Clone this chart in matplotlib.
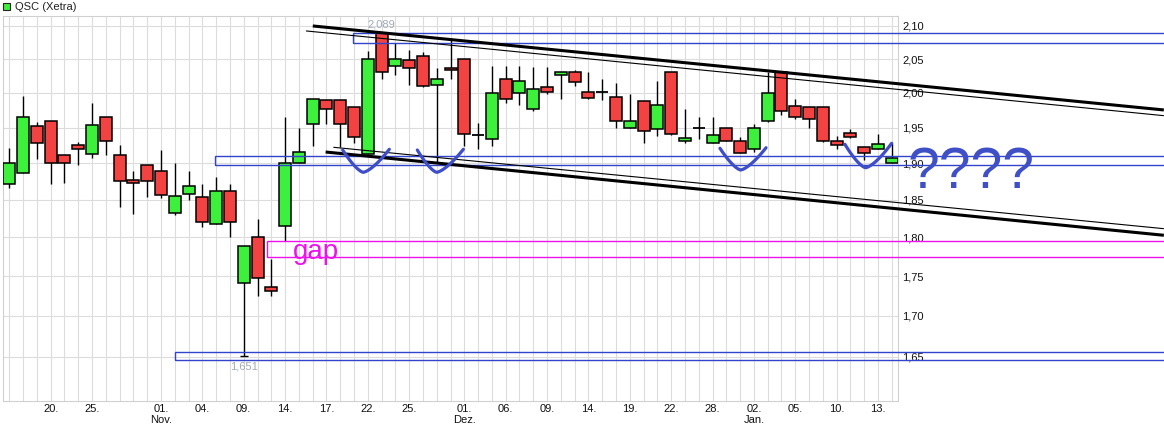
import numpy as np
import pandas as pd
import matplotlib
matplotlib.use('Agg')
import matplotlib.pyplot as plt
from matplotlib.patches import Rectangle
from matplotlib.ticker import FixedLocator, FixedFormatter, NullLocator

plt.rcParams['font.family'] = ['Liberation Sans', 'DejaVu Sans']

# ---------------- data ----------------
dates = pd.bdate_range('2016-10-17', '2017-01-16')
dates = dates[dates != pd.Timestamp('2016-12-26')]

opens = [1.871, 1.886, 1.952, 1.960, 1.911, 1.926, 1.913, 1.965, 1.911, 1.877,
         1.897, 1.890, 1.833, 1.858, 1.854, 1.818, 1.862, 1.741, 1.800, 1.736,
         1.815, 1.900, 1.955, 1.990, 1.989, 1.980, 1.913, 2.089, 2.040, 2.049,
         2.054, 2.011, 2.036, 2.050, 1.940, 1.934, 2.021, 2.000, 1.976, 2.009,
         2.027, 2.030, 2.001, 2.001, 1.994, 1.950, 1.988, 1.948, 2.030, 1.931,
         1.949, 1.929, 1.950, 1.931, 1.920, 1.960, 2.030, 1.981, 1.980, 1.980,
         1.931, 1.942, 1.923, 1.920, 1.901]
highs = [1.921, 1.995, 1.958, 1.960, 1.911, 1.930, 1.986, 1.965, 1.925, 1.890,
         1.897, 1.918, 1.900, 1.890, 1.871, 1.881, 1.871, 1.789, 1.825, 1.772,
         1.965, 1.950, 1.991, 1.990, 1.989, 1.980, 2.062, 2.089, 2.074, 2.064,
         2.061, 2.036, 2.079, 2.050, 1.956, 2.040, 2.040, 2.039, 2.038, 2.038,
         2.030, 2.034, 2.030, 2.021, 2.014, 1.999, 1.988, 2.018, 2.030, 1.976,
         1.965, 1.965, 1.950, 1.937, 1.955, 2.031, 2.032, 1.991, 1.980, 1.980,
         1.938, 1.948, 1.923, 1.941, 1.929]
lows = [1.866, 1.886, 1.906, 1.871, 1.873, 1.898, 1.907, 1.912, 1.841, 1.831,
        1.854, 1.853, 1.830, 1.850, 1.814, 1.818, 1.801, 1.651, 1.725, 1.725,
        1.795, 1.900, 1.924, 1.955, 1.923, 1.929, 1.913, 2.021, 2.026, 2.011,
        2.009, 1.901, 2.021, 1.924, 1.920, 1.924, 1.985, 1.982, 1.974, 1.998,
        1.991, 2.010, 1.991, 1.989, 1.950, 1.950, 1.929, 1.938, 1.940, 1.929,
        1.934, 1.929, 1.931, 1.915, 1.916, 1.958, 1.968, 1.962, 1.950, 1.930,
        1.920, 1.936, 1.904, 1.920, 1.901]
closes = [1.900, 1.965, 1.929, 1.901, 1.900, 1.920, 1.954, 1.931, 1.875, 1.873,
          1.876, 1.857, 1.855, 1.869, 1.821, 1.862, 1.820, 1.789, 1.747, 1.731,
          1.900, 1.916, 1.991, 1.976, 1.955, 1.937, 2.050, 2.030, 2.050, 2.036,
          2.010, 2.021, 2.033, 1.941, 1.940, 2.000, 1.991, 2.018, 2.006, 2.001,
          2.030, 2.016, 1.993, 2.001, 1.960, 1.960, 1.945, 1.983, 1.941, 1.936,
          1.949, 1.940, 1.931, 1.915, 1.950, 2.000, 1.974, 1.965, 1.962, 1.931,
          1.925, 1.937, 1.915, 1.927, 1.907]

tick_dates = ['2016-10-20', '2016-10-25', '2016-11-01', '2016-11-04', '2016-11-09',
              '2016-11-14', '2016-11-17', '2016-11-22', '2016-11-25', '2016-12-01',
              '2016-12-06', '2016-12-09', '2016-12-14', '2016-12-19', '2016-12-22',
              '2016-12-28', '2017-01-02', '2017-01-05', '2017-01-10', '2017-01-13']
month_labels = {'2016-11-01': 'Nov.', '2016-12-01': 'Dez.', '2017-01-02': 'Jan.'}
price_ticks = [1.65, 1.70, 1.75, 1.80, 1.85, 1.90, 1.95, 2.00, 2.05, 2.10]
price_tick_labels = ['1,65', '1,70', '1,75', '1,80', '1,85', '1,90', '1,95', '2,00', '2,05', '2,10']

title = 'QSC (Xetra)'

# channel lines: (start index, start price, end index, end price, width)
trend_lines = [
    (22.01, 2.100, 83.73, 1.9753, 2.2),
    (21.52, 2.0924, 83.73, 1.9671, 0.8),
    (22.94, 1.9157, 83.73, 1.8029, 2.2),
    (23.50, 1.9223, 83.73, 1.8116, 0.8),
]
# horizontal zones: (left index, low price, high price, colour)
zones = [
    (24.90, 2.0746, 2.0889, '#3344cc'),
    (14.94, 1.8973, 1.9102, '#3344cc'),
    (12.04, 1.6459, 1.6563, '#3344cc'),
    (18.67, 1.7742, 1.7950, '#ee11ee'),
]
# hand-drawn "V" marks: (start i, start p, bottom i, bottom p, end i, end p)
v_marks = [
    (24.18, 1.9185, 25.67, 1.8876, 27.56, 1.9195),
    (29.59, 1.9185, 31.00, 1.8876, 32.93, 1.9195),
    (51.54, 1.9209, 53.04, 1.8908, 54.88, 1.9217),
    (60.60, 1.9265, 62.10, 1.8939, 63.99, 1.9279),
]

# ---------------- figure ----------------
W, H = 1164, 430
fig = plt.figure(figsize=(W / 100, H / 100), dpi=100)
ax = fig.add_axes([3 / W, 29 / H, 895 / W, 385 / H])

n = len(dates)
x = np.arange(n)
date_pos = {d.strftime('%Y-%m-%d'): i for i, d in enumerate(dates)}

ax.set_yscale('log')
ax.set_xlim(-0.457, 64.45)
ax.set_ylim(1.5978, 2.1153)

# grid
grid_c = '#dcdcdc'
for i in x:
    ax.axvline(i, color=grid_c, lw=0.8, zorder=0)
for p in price_ticks:
    ax.axhline(p, color=grid_c, lw=0.8, zorder=0)

# candles
green = '#3cf03c'
red = '#f24242'
bw = 0.87
for i in range(n):
    o, h, l, c = opens[i], highs[i], lows[i], closes[i]
    ax.vlines(i, l, h, color='black', lw=1.0, zorder=2)
    if abs(c - o) < 1e-9:
        ax.hlines(o, i - bw / 2, i + bw / 2, color='black', lw=1.3, zorder=3)
    else:
        col = green if c > o else red
        ax.add_patch(Rectangle((i - bw / 2, min(o, c)), bw, abs(c - o),
                               facecolor=col, edgecolor='black', lw=1.1, zorder=3))

# min marker
imin = int(np.argmin(lows))
ax.hlines(lows[imin], imin - 0.3, imin + 0.3, color='black', lw=1.0, zorder=3)
imax = int(np.argmax(highs))
ax.annotate('2,089', (imax, highs[imax]), xytext=(0, 6.5), textcoords='offset points',
            ha='center', va='center', fontsize=8, color='#a0aab8', zorder=5)
ax.annotate('1,651', (imin, lows[imin]), xytext=(0, -7.3), textcoords='offset points',
            ha='center', va='center', fontsize=8, color='#a0aab8', zorder=5)

# zones
for left, lo, hi, col in zones:
    ax.add_patch(Rectangle((left, lo), 100, hi - lo, fill=False, edgecolor=col,
                           lw=1.0, zorder=4, clip_on=False))

# trend lines
for i0, p0, i1, p1, lw in trend_lines:
    ax.plot([i0, i1], [p0, p1], color='black', lw=lw, zorder=4, clip_on=False,
            solid_capstyle='butt')

# V marks
vcol = '#3d4ec8'
for si, sp, bi, bp, ei, ep in v_marks:
    u = np.linspace(0, 1, 40)
    xl = bi + (si - bi) * u[::-1]
    yl = np.exp(np.log(bp) + (np.log(sp) - np.log(bp)) * u[::-1] ** 1.45)
    xr = bi + (ei - bi) * u
    yr = np.exp(np.log(bp) + (np.log(ep) - np.log(bp)) * u ** 1.45)
    ax.plot(np.r_[xl, xr], np.r_[yl, yr], color=vcol, lw=2.3, zorder=6,
            solid_capstyle='round', clip_on=False)

ax.text(20.6, 1.7724, 'gap', color='#ee11ee', fontsize=20, ha='left',
        va='baseline', zorder=6)
ax.text(65.17, 1.8661, '????', color='#3f4fc6', fontsize=41, ha='left',
        va='baseline', zorder=6, clip_on=False)

# axes styling
for s in ax.spines.values():
    s.set_color('#d0d0d0')
    s.set_linewidth(0.8)

ax.yaxis.tick_right()
ax.yaxis.set_major_locator(FixedLocator(price_ticks))
ax.yaxis.set_major_formatter(FixedFormatter(price_tick_labels))
ax.yaxis.set_minor_locator(NullLocator())
ax.tick_params(axis='y', length=0, pad=3, labelsize=8, labelcolor='#111111')

xt = [date_pos[d] for d in tick_dates]
xl_labels = []
for d in tick_dates:
    lab = pd.Timestamp(d).strftime('%d') + '.'
    if d in month_labels:
        lab += '\n' + month_labels[d]
    xl_labels.append(lab)
ax.set_xticks(xt)
ax.set_xticklabels(xl_labels, linespacing=1.15)
ax.xaxis.set_minor_locator(NullLocator())
ax.tick_params(axis='x', length=0, pad=2, labelsize=8, labelcolor='#111111')

# legend
fig.patches.append(Rectangle((3 / W, 1 - 10 / H), 7 / W, 7 / H, transform=fig.transFigure,
                             facecolor=green, edgecolor='#222222', lw=0.8))
fig.text(15 / W, 1 - 6.5 / H, title, fontsize=8, va='center', ha='left', color='#222222')

fig.savefig('out.png', dpi=100)
